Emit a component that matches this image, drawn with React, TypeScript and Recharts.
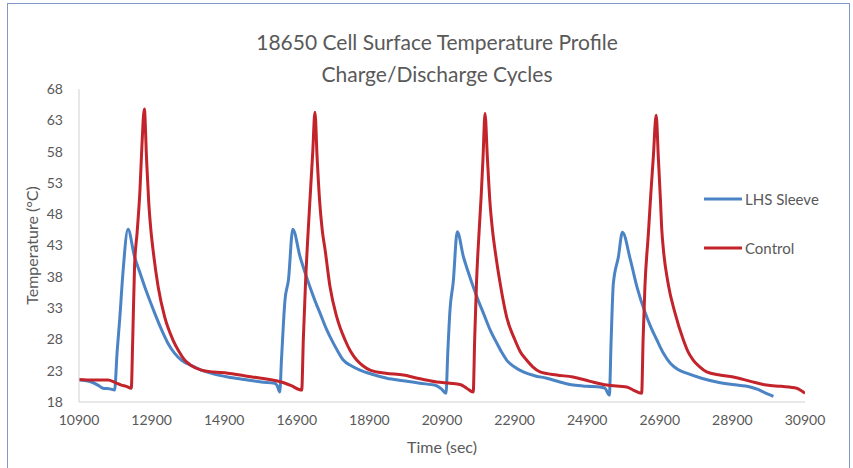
import React from 'react'
import { LineChart, Line, XAxis, YAxis, Legend } from 'recharts'

// LHS Sleeve (blue) readings
const sleeveTime = [
  10900, 11240, 11420, 11560, 11750, 11880, 11950, 12020, 12110, 12250, 12430, 12570, 12710, 12850, 12985, 13170,
  13350, 13530, 13720, 14000, 14270, 14600, 15000, 15450, 15920, 16290, 16360, 16430, 16480, 16575, 16670, 16790,
  16990, 17120, 17260, 17400, 17540, 17720, 17906, 18040, 18180, 18400, 18640, 19000, 19380, 19830, 20290, 20750,
  20880, 21010, 21060, 21120, 21210, 21320, 21490, 21620, 21760, 21900, 22040, 22220, 22410, 22540, 22680, 22900,
  23140, 23450, 23785, 24150, 24520, 24900, 25250, 25390, 25510, 25560, 25620, 25760, 25870, 26090, 26270, 26500,
  26650, 26820, 27000, 27190, 27400, 27640, 28050, 28470, 28900, 29390, 29600, 29745, 29900, 30030,
]
const sleeveTemp = [
  21.5, 21.2, 20.7, 20.2, 20.1, 19.9, 26, 31.1, 38.6, 45.6, 41.2, 38.8, 36.4, 34.2, 32.2, 29.6,
  27.4, 25.8, 24.7, 23.8, 23.1, 22.5, 22.0, 21.6, 21.2, 21.0, 20.6, 19.6, 25, 34.3, 37.5, 45.6,
  41.2, 38.8, 36.4, 34.2, 32.2, 29.6, 27.4, 26, 24.7, 23.8, 23.1, 22.4, 21.8, 21.4, 21.0, 20.6,
  20.1, 19.4, 26, 32.7, 37.2, 45.2, 41.2, 38.8, 36.4, 34.2, 32.2, 29.6, 27.4, 26, 24.7, 23.6,
  22.8, 22.2, 21.8, 21.2, 20.7, 20.5, 20.4, 20.2, 19.1, 28, 36.9, 41.2, 45.1, 40.7, 36.4, 32.2,
  30, 27.9, 25.8, 24.2, 23.2, 22.6, 21.8, 21.2, 20.8, 20.4, 20.0, 19.6, 19.2, 18.9,
]

// Control (red) readings
const controlTime = [
  10900, 11300, 11700, 11900, 12065, 12200, 12340, 12380, 12430, 12500, 12580, 12630, 12700, 12760, 12820, 12880,
  12940, 13080, 13260, 13490, 13650, 13810, 14000, 14270, 14600, 15000, 15450, 15920, 16470, 16750, 17035, 17080,
  17140, 17220, 17280, 17340, 17400, 17460, 17530, 17600, 17680, 17815, 18000, 18230, 18380, 18550, 18720, 18920,
  19350, 19835, 20300, 20755, 21120, 21400, 21580, 21760, 21800, 21850, 21920, 21980, 22030, 22085, 22150, 22220,
  22290, 22360, 22500, 22680, 22910, 23060, 23230, 23400, 23600, 24060, 24510, 24980, 25440, 25990, 26170, 26400,
  26440, 26490, 26585, 26650, 26720, 26800, 26860, 26920, 26950, 27000, 27130, 27320, 27550, 27680, 27820, 28000,
  28190, 28550, 28925, 29400, 29840, 30250, 30670, 30800, 30900,
]
const controlTemp = [
  21.6, 21.5, 21.5, 21.1, 20.7, 20.5, 20.2, 28, 39.6, 45, 51.9, 58.5, 64.8, 57, 50, 45.5,
  42.3, 36.4, 31.6, 27.9, 26.1, 24.7, 23.8, 23.1, 22.8, 22.6, 22.2, 21.8, 21.2, 20.6, 19.9, 28,
  37, 46, 52, 58, 64.3, 57, 50, 45.5, 42.3, 36.4, 31.6, 27.9, 26.1, 24.7, 23.8, 23.1,
  22.6, 22.3, 21.7, 21.2, 21.0, 20.8, 20.2, 19.6, 28, 37, 45, 51, 57, 64.1, 57, 50,
  45.5, 42.3, 37, 31.6, 27.9, 26, 24.7, 23.6, 22.8, 22.3, 22.0, 21.3, 20.7, 20.4, 19.9, 19.4,
  28, 36.4, 44.9, 51, 57, 63.8, 57, 50, 46, 42.3, 36.9, 32.2, 27.9, 26, 24.7, 23.6,
  22.8, 22.3, 22.0, 21.3, 20.7, 20.5, 20.2, 19.8, 19.4,
]

const xTicks = [10900, 12900, 14900, 16900, 18900, 20900, 22900, 24900, 26900, 28900, 30900]
const yTicks = [18, 23, 28, 33, 38, 43, 48, 53, 58, 63, 68]

const sleeveData = sleeveTime.map((t, i) => ({ time: t, temp: sleeveTemp[i] }))
const controlData = controlTime.map((t, i) => ({ time: t, temp: controlTemp[i] }))

const BLUE = '#4b84c4'
const RED = '#c3242b'
const TEXT = '#595959'
const FONT = 'Lato, "Open Sans", sans-serif'

const renderLegend = () => (
  <div style={{ fontFamily: FONT, color: TEXT, fontSize: 15 }}>
    {[
      { name: 'LHS Sleeve', color: BLUE },
      { name: 'Control', color: RED },
    ].map((item, i) => (
      <div key={item.name} style={{ display: 'flex', alignItems: 'center', height: 24, marginBottom: i === 0 ? 25 : 0 }}>
        <svg width={38} height={6} style={{ marginRight: 3 }}>
          <line x1={0} y1={3} x2={38} y2={3} stroke={item.color} strokeWidth={3} />
        </svg>
        <span>{item.name}</span>
      </div>
    ))}
  </div>
)

export default function App() {
  return (
    <div style={{ position: 'fixed', left: 0, top: 0, width: 853, height: 468, background: '#fff', overflow: 'hidden' }}>
      <div
        style={{
          position: 'absolute',
          left: 7,
          top: 3,
          width: 843,
          height: 480,
          border: '1.5px solid #8297cc',
          boxSizing: 'border-box',
        }}
      />
      <div
        style={{
          position: 'absolute',
          left: 0,
          width: 874,
          top: 26,
          textAlign: 'center',
          fontFamily: FONT,
          color: TEXT,
          fontSize: 21,
          lineHeight: '32px',
        }}
      >
        <div>18650 Cell Surface Temperature Profile</div>
        <div>Charge/Discharge Cycles</div>
      </div>
      <LineChart width={853} height={468} margin={{ top: 89, right: 48, bottom: 36, left: 39 }} style={{ position: 'absolute', left: 0, top: 0 }}>
        <XAxis
          dataKey="time"
          type="number"
          domain={[10900, 30900]}
          ticks={xTicks}
          allowDataOverflow
          height={30}
          tickLine={false}
          tickMargin={7}
          stroke="#d0d0d0"
          tick={{ fill: TEXT, fontSize: 14, fontFamily: FONT }}
          label={{ value: 'Time (sec)', position: 'insideBottom', offset: -21, fill: TEXT, fontSize: 16, fontFamily: FONT }}
        />
        <YAxis
          dataKey="temp"
          type="number"
          domain={[18, 68]}
          ticks={yTicks}
          width={40}
          tickLine={false}
          tickMargin={10}
          stroke="#d0d0d0"
          tick={{ fill: TEXT, fontSize: 14, fontFamily: FONT }}
          label={{ value: 'Temperature (°C)', angle: -90, position: 'insideLeft', offset: -7, fill: TEXT, fontSize: 16, fontFamily: FONT, style: { textAnchor: 'middle' } }}
        />
        <Legend
          layout="horizontal"
          verticalAlign="middle"
          content={renderLegend}
          wrapperStyle={{ left: 704, top: 187, width: 140 }}
        />
        <Line data={sleeveData} dataKey="temp" name="LHS Sleeve" type="monotone" stroke={BLUE} strokeWidth={3} dot={false} isAnimationActive={false} />
        <Line data={controlData} dataKey="temp" name="Control" type="monotone" stroke={RED} strokeWidth={3} dot={false} isAnimationActive={false} />
      </LineChart>
    </div>
  )
}
